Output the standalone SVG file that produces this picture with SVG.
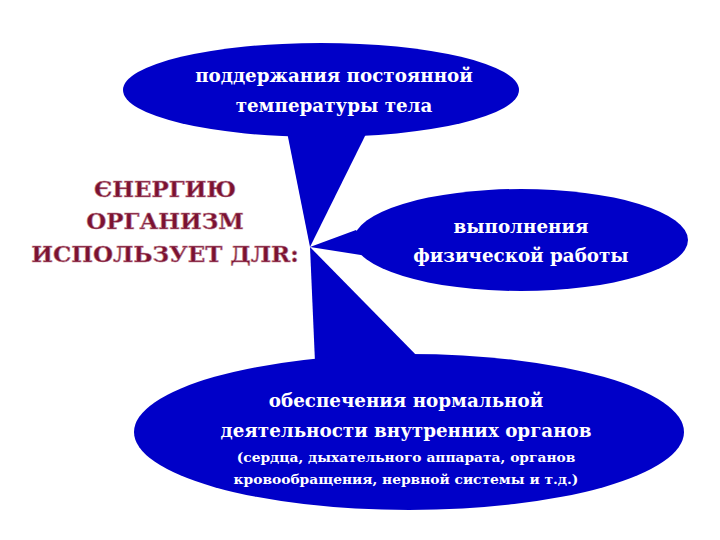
<svg xmlns="http://www.w3.org/2000/svg" width="720" height="540" viewBox="0 0 720 540">
<style>
.bub{fill:#0000C8}
.t{font-family:"DejaVu Serif",serif;font-weight:bold;fill:#FFFFFF;text-anchor:middle}
.big{font-size:18.3px}
.small{font-size:13.8px}
.title{font-family:"DejaVu Serif",serif;font-weight:bold;font-size:23px;fill:#7A1232;stroke:#C08090;stroke-width:0.6;text-anchor:middle}
</style>
<rect width="720" height="540" fill="#FFFFFF"/>
<g id="connectors">
<polygon class="bub" points="287,132 367,132 310,247"/>
<polygon class="bub" points="310,247 356,230 380,258"/>
<polygon class="bub" points="310,247 315,362 423,362"/>
</g>
<g id="title">
<text class="title" x="165" y="197">ЄНЕРГИЮ</text>
<text class="title" x="165" y="229">ОРГАНИЗМ</text>
<text class="title" x="165" y="262">ИСПОЛЬЗУЕТ ДЛR:</text>
</g>
<g id="node-top">
<ellipse class="bub" cx="321" cy="90" rx="198" ry="47"/>
<text class="t big" x="334" y="82">поддержания постоянной</text>
<text class="t big" x="334" y="112">температуры тела</text>
</g>
<g id="node-right">
<ellipse class="bub" cx="521" cy="240" rx="167" ry="51"/>
<text class="t big" x="521" y="233">выполнения</text>
<text class="t big" x="521" y="262">физической работы</text>
</g>
<g id="node-bottom">
<ellipse class="bub" cx="409" cy="432" rx="275" ry="78"/>
<text class="t big" x="406" y="407">обеспечения нормальной</text>
<text class="t big" x="406" y="437">деятельности внутренних органов</text>
<text class="t small" x="406" y="462">(сердца, дыхательного аппарата, органов</text>
<text class="t small" x="406" y="484">кровообращения, нервной системы и т.д.)</text>
</g>
</svg>
